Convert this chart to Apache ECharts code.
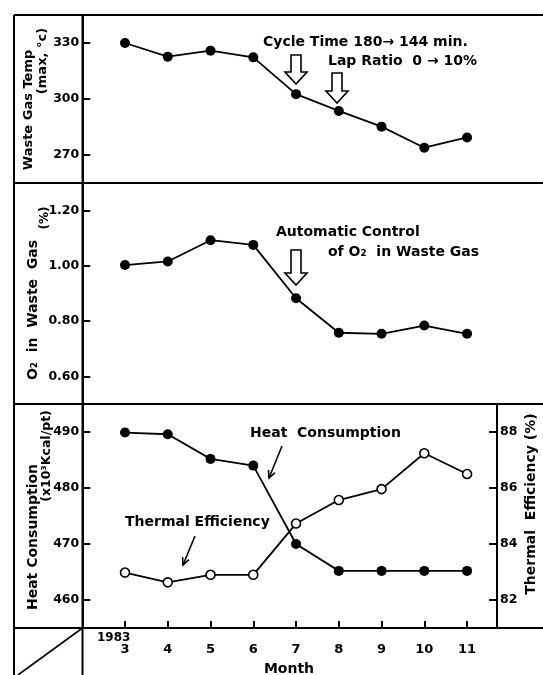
<!DOCTYPE html>
<html>
<head>
<meta charset="utf-8">
<script src="https://cdn.jsdelivr.net/npm/echarts@6/dist/echarts.min.js"></script>
<style>
  html, body { margin: 0; padding: 0; background: #fff; }
  #chart { width: 543px; height: 675px; }
</style>
</head>
<body>
<div id="chart"></div>
<script>
// data
var months = [3, 4, 5, 6, 7, 8, 9, 10, 11];
var wasteGasTemp = [330, 322.7, 325.9, 322.3, 302.6, 293.6, 285.2, 273.9, 279.4];
var o2InWasteGas = [1.003, 1.016, 1.093, 1.076, 0.883, 0.758, 0.754, 0.784, 0.754];
var heatConsumption = [489.9, 489.6, 485.2, 484.0, 470.0, 465.2, 465.2, 465.2, 465.2];
var thermalEfficiency = [82.98, 82.63, 82.9, 82.9, 84.73, 85.57, 85.96, 87.24, 86.5];
var tempTicks = [270, 300, 330];
var o2Ticks = [0.6, 0.8, 1.0, 1.2];
var heatTicks = [460, 470, 480, 490];
var effTicks = [82, 84, 86, 88];

var FONT = '"DejaVu Sans", sans-serif';

function pairs(ys) {
  return months.map(function (m, i) { return [m, ys[i]]; });
}

function yAx(grid, min, max, ticks, fmt, pos) {
  return {
    type: 'value', gridIndex: grid, min: min, max: max, position: pos || 'left',
    splitLine: { show: false },
    axisLine: { show: true, lineStyle: { color: '#000', width: 2 } },
    axisTick: { show: true, inside: true, length: 8, customValues: ticks, lineStyle: { color: '#000', width: 2 } },
    axisLabel: { customValues: ticks, formatter: fmt, color: '#000', fontWeight: 'bold', fontSize: 12.5, fontFamily: FONT, margin: 3 }
  };
}

function xAx(grid, show) {
  return {
    type: 'value', gridIndex: grid, min: 2, max: 11.7, show: show,
    splitLine: { show: false },
    axisLine: { show: true, lineStyle: { color: '#000', width: 2 } },
    axisTick: { show: true, inside: true, length: 7, customValues: months, lineStyle: { color: '#000', width: 2 } },
    axisLabel: { customValues: months, color: '#000', fontWeight: 'bold', fontSize: 13, fontFamily: FONT, margin: 15 }
  };
}

function line(name, x, y, ys, open) {
  return {
    name: name, type: 'line', xAxisIndex: x, yAxisIndex: y, data: pairs(ys),
    symbol: 'circle', symbolSize: open ? 9 : 10,
    lineStyle: { color: '#000', width: 1.8 },
    itemStyle: { color: open ? '#fff' : '#000', borderColor: '#000', borderWidth: open ? 1.6 : 0 },
    animation: false, z: 5
  };
}

function txt(s, x, y, opts) {
  opts = opts || {};
  return {
    type: 'text', x: x, y: y, rotation: opts.rot || 0, z: 10,
    style: {
      text: s, fill: '#000', font: 'bold ' + (opts.size || 14) + 'px ' + FONT,
      align: opts.align || 'left', verticalAlign: 'middle'
    }
  };
}

function vtxt(s, x, y, size) {
  return txt(s, x, y, { rot: Math.PI / 2, align: 'center', size: size || 14 });
}

function seg(x1, y1, x2, y2, w) {
  return { type: 'line', z: 8, shape: { x1: x1, y1: y1, x2: x2, y2: y2 }, style: { stroke: '#000', lineWidth: w || 2 } };
}

function hollowArrow(cx, top, bottom) {
  var h = bottom - 12;
  return {
    type: 'polygon', z: 9,
    shape: { points: [[cx - 5, top], [cx + 5, top], [cx + 5, h], [cx + 11, h], [cx, bottom], [cx - 11, h], [cx - 5, h]] },
    style: { fill: '#fff', stroke: '#000', lineWidth: 1.6 }
  };
}

function pointer(x1, y1, x2, y2) {
  var a = Math.atan2(y2 - y1, x2 - x1), L = 8, s = 0.45;
  return [
    seg(x1, y1, x2, y2, 1.6),
    {
      type: 'polyline', z: 8,
      shape: { points: [
        [x2 - L * Math.cos(a - s), y2 - L * Math.sin(a - s)], [x2, y2],
        [x2 - L * Math.cos(a + s), y2 - L * Math.sin(a + s)]
      ] },
      style: { stroke: '#000', lineWidth: 1.6, fill: null }
    }
  ];
}

var chart = echarts.init(document.getElementById('chart'));

var graphics = [
  // frame
  seg(14, 15, 543, 15), seg(14, 183, 543, 183), seg(14, 404, 543, 404), seg(14, 628, 543, 628),
  seg(14, 15, 14, 675), seg(82.5, 15, 82.5, 675), seg(18, 675, 82.5, 628, 1.6),
  // axis titles
  vtxt('Waste Gas Temp', 29, 110, 13),
  vtxt('(max, °c)', 43, 61, 13),
  vtxt('O₂  in  Waste  Gas', 33, 310),
  vtxt('(%)', 45, 218, 12),
  vtxt('Heat Consumption', 33, 537),
  vtxt('(x10³Kcal/pt)', 47, 456, 12.5),
  vtxt('Thermal  Efficiency (%)', 531, 504),
  txt('1983', 97, 638, { size: 12 }),
  txt('Month', 289, 669, { align: 'center' }),
  // annotations
  txt('Cycle Time 180→ 144 min.', 263, 42),
  txt('Lap Ratio  0 → 10%', 328, 61),
  hollowArrow(296, 55, 84),
  hollowArrow(337, 73, 103),
  txt('Automatic Control', 276, 232),
  txt('of O₂  in Waste Gas', 328, 252),
  hollowArrow(296, 250, 285),
  txt('Heat  Consumption', 250, 433),
  txt('Thermal Efficiency', 125, 522)
].concat(pointer(282, 446, 269, 478)).concat(pointer(195, 536, 183, 565));

chart.setOption({
  backgroundColor: '#fff',
  animation: false,
  grid: [
    { left: 82.25, right: 46, top: 15, height: 168 },
    { left: 82.25, right: 46, top: 183, height: 221 },
    { left: 82.25, right: 46, top: 404, height: 224 }
  ],
  xAxis: [xAx(0, false), xAx(1, false), xAx(2, true)],
  yAxis: [
    yAx(0, 255, 345, tempTicks),
    yAx(1, 0.5, 1.3, o2Ticks, function (v) { return v.toFixed(2); }),
    yAx(2, 455, 495, heatTicks),
    yAx(2, 81, 89, effTicks, null, 'right')
  ],
  series: [
    line('Waste Gas Temp', 0, 0, wasteGasTemp, false),
    line('O2 in Waste Gas', 1, 1, o2InWasteGas, false),
    line('Heat Consumption', 2, 2, heatConsumption, false),
    line('Thermal Efficiency', 2, 3, thermalEfficiency, true)
  ],
  graphic: graphics
});
</script>
</body>
</html>
